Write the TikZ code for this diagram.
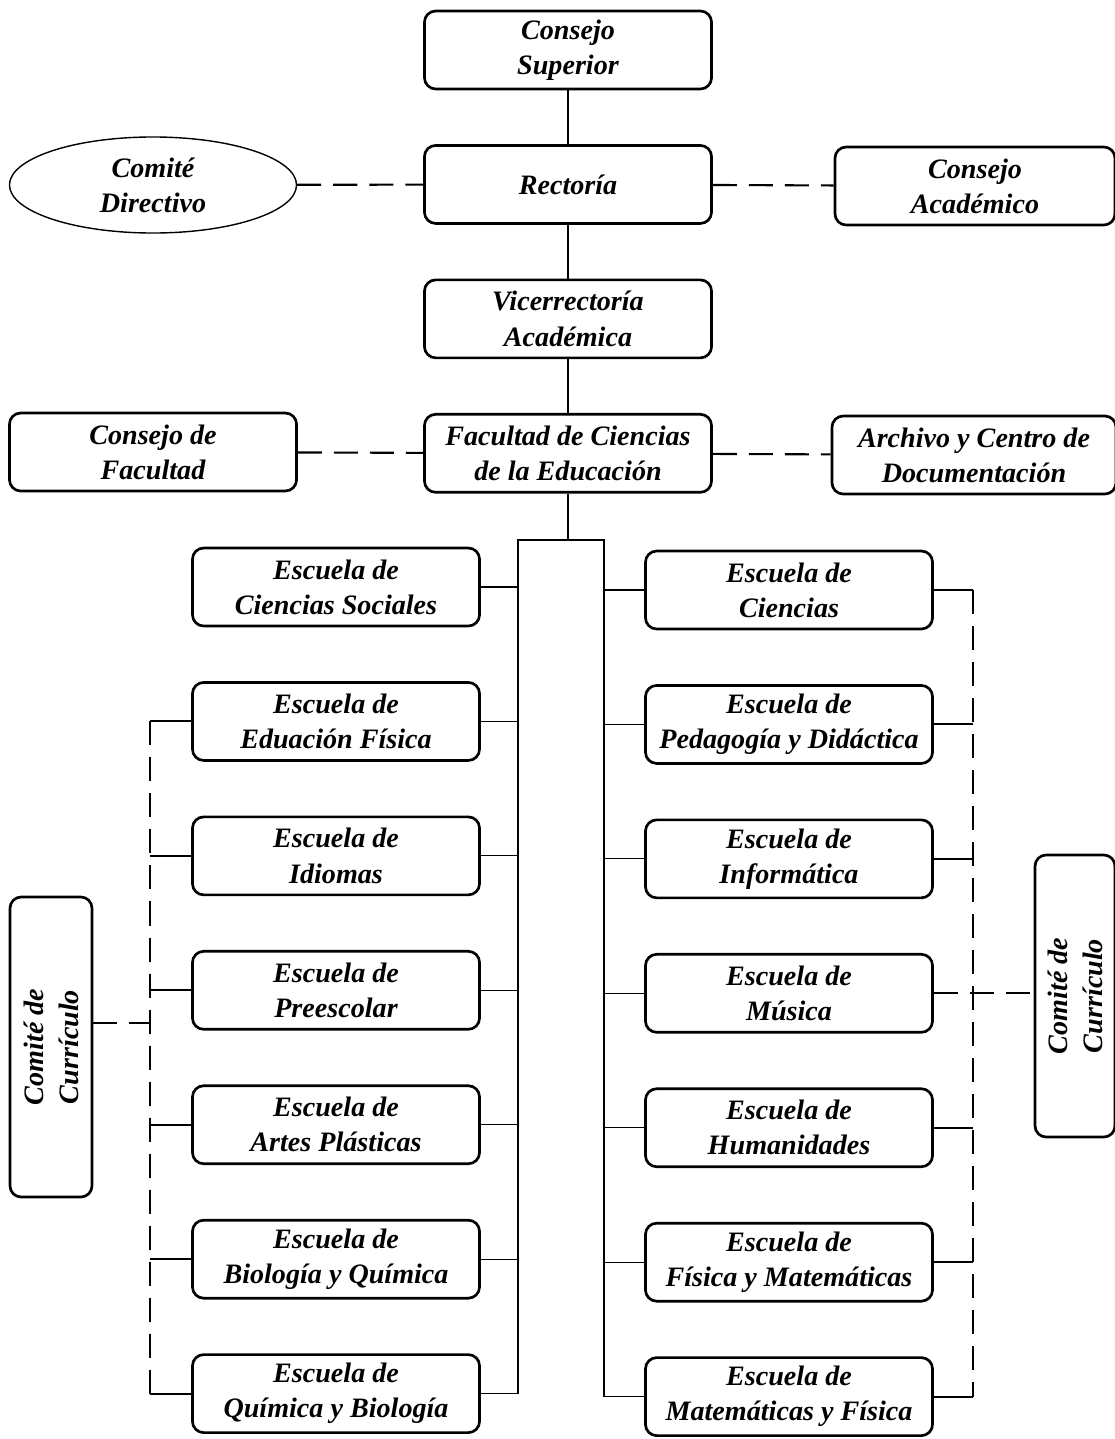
\documentclass[tikz,border=0pt]{standalone}
\usepackage{fontspec}
\setmainfont{Liberation Serif}
\usetikzlibrary{shapes.geometric}

\begin{document}
\begin{tikzpicture}[x=0.025cm,y=-0.025cm,node distance=3.36cm,
  every node/.style={font=\fontsize{20}{25}\selectfont\bfseries\itshape,align=center},
  box/.style={draw,rounded corners=8pt,line width=1.9pt,minimum width=7.175cm,minimum height=1.95cm,inner sep=2pt},
  link/.style={line width=0.8pt},
  tick/.style={line width=1.5pt},
  dashlink/.style={line width=1.5pt,dash pattern=on 0.6cm off 0.3cm}]

  \useasboundingbox (0,0) rectangle (1115,1439);

  % central column
  \node[box] (cs) at (568,50) {Consejo\\Superior};
  \node[box] (rec) [below of=cs] {Rectoría};
  \node[box] (vic) [below of=rec] {Vicerrectoría\\Académica};
  \node[box] (fac) [below of=vic] {Facultad de Ciencias\\de la Educación};

  \node[ellipse,draw,line width=1pt,minimum width=7.175cm,minimum height=2.4cm,inner sep=0pt] (cd) at (153,185) {Comité\\Directivo};
  \node[box,minimum width=7cm] (ca) at (975,186) {Consejo\\Académico};
  \node[box] (cf) at (153,452) {Consejo de\\Facultad};
  \node[box,minimum width=7.1cm] (arch) at (974,455) {Archivo y Centro de\\Documentación};

  % escuelas
  \node[box] (e1) at (336,587) {Escuela de\\Ciencias Sociales};
  \node[box] (e2) [below of=e1] {Escuela de\\Eduación Física};
  \node[box] (e3) [below of=e2] {Escuela de\\Idiomas};
  \node[box] (e4) [below of=e3] {Escuela de\\Preescolar};
  \node[box] (e5) [below of=e4] {Escuela de\\Artes Plásticas};
  \node[box] (e6) [below of=e5] {Escuela de\\Biología y Química};
  \node[box] (e7) [below of=e6] {Escuela de\\Química y Biología};

  \node[box] (d1) at (789,590) {Escuela de\\Ciencias};
  \node[box] (d2) [below of=d1] {Escuela de\\Pedagogía y Didáctica};
  \node[box] (d3) [below of=d2] {Escuela de\\Informática};
  \node[box] (d4) [below of=d3] {Escuela de\\Música};
  \node[box] (d5) [below of=d4] {Escuela de\\Humanidades};
  \node[box] (d6) [below of=d5] {Escuela de\\Física y Matemáticas};
  \node[box] (d7) [below of=d6] {Escuela de\\Matemáticas y Física};

  \node[box,rotate=90,minimum width=7.5cm,minimum height=2.05cm] (cl) at (51,1047) {Comité de\\Currículo};
  \node[box,rotate=90,minimum width=7.05cm,minimum height=2cm] (cr) at (1075,996) {Comité de\\Currículo};

  \path[link] (cs) edge (rec) (rec) edge (vic) (vic) edge (fac);
  \path[dashlink] (cd) edge (rec) (rec) edge (ca)
    (cf) edge (fac) (fac) edge (arch);

  % bus
  \coordinate (top) at (568,540);
  \coordinate (bl) at (518,540);
  \coordinate (br) at (604,540);
  \draw[link] (fac) -- (top);
  \draw[link] (e7.east) -| (bl) -- (br) |- (d7.west);
  \foreach \i in {1,...,6} {
    \draw[link] (e\i.east) -- (e\i.east -| bl);
    \draw[link] (d\i.west) -- (d\i.west -| br);
  }

  % comites de curriculo
  \coordinate (ll) at (150,0);
  \coordinate (rr) at (973,0);
  \draw[dashlink] (e2.west -| ll) -- (e7.west -| ll);
  \foreach \i in {2,...,7} \draw[tick] (e\i.west) -- (e\i.west -| ll);
  \draw[dashlink] ([yshift=0.6cm]cl.south) -- ([yshift=0.6cm]cl.south -| ll);
  \draw[dashlink] (d1.east -| rr) -- (d7.east -| rr);
  \foreach \i in {1,2,3,5,6,7} \draw[tick] (d\i.east) -- (d\i.east -| rr);
  \draw[dashlink] (d4.east) -- (d4.east -| cr.north);

\end{tikzpicture}
\end{document}
